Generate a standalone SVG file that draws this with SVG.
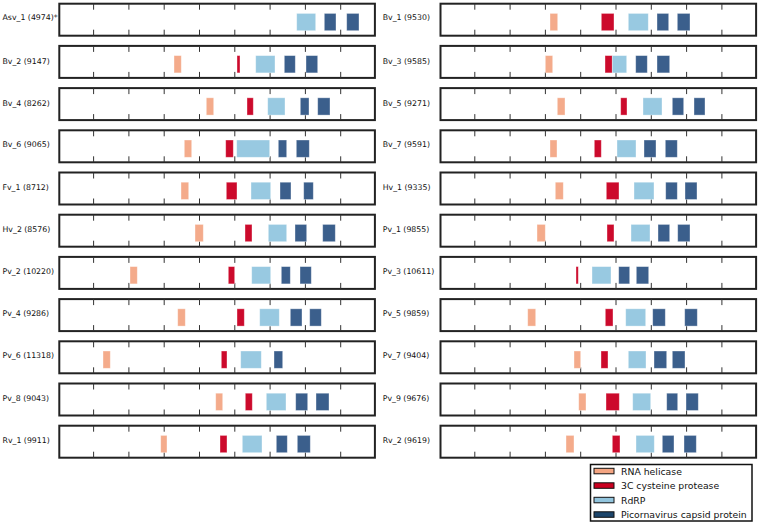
<svg xmlns="http://www.w3.org/2000/svg" xmlns:xlink="http://www.w3.org/1999/xlink" width="760" height="525" viewBox="0 0 760 525">
<style>
.frame{fill:#fff;stroke:#222;stroke-width:2}
.tk{stroke:#333;stroke-width:1;fill:none}
.lbl{font-family:"DejaVu Sans",sans-serif;font-size:7.8px;fill:#111}
.s{fill:#f4ab8b}
.r{fill:#cc0a2c}
.l{fill:#98c9e1}
.d{fill:#3b5f8c}
.b rect{stroke:#fff;stroke-opacity:0.45;stroke-width:0.8}
.leg{font-family:"DejaVu Sans",sans-serif;font-size:9.3px;fill:#111}
</style>
<defs>
<g id="panel">
<rect class="frame" x="1" y="1" width="315.6" height="32"/>
<path class="tk" d="M35.3,1v6M70.6,1v6M105.9,1v6M141.2,1v6M176.5,1v6M211.8,1v6M247.1,1v6M282.4,1v6M35.3,33v-6M70.6,33v-6M105.9,33v-6M141.2,33v-6M176.5,33v-6M211.8,33v-6M247.1,33v-6M282.4,33v-6"/>
</g>
</defs>
<g id="connectors"/>
<!-- left column -->
<g id="Asv_1" transform="translate(58.3,2.7)"><use xlink:href="#panel"/><text class="lbl" x="-55.8" y="17">Asv_1 (4974)*</text><g class="b" transform="translate(0,10.7)"><rect class="l" x="238.4" width="19" height="17.3"/><rect class="d" x="266" width="11.7" height="17.3"/><rect class="d" x="288.4" width="12.3" height="17.3"/></g></g>
<g id="Bv_2" transform="translate(58.3,44.9)"><use xlink:href="#panel"/><text class="lbl" x="-55.8" y="19.5">Bv_2 (9147)</text><g class="b" transform="translate(0,10.7)"><rect class="s" x="115.7" width="7.3" height="17.3"/><rect class="r" x="178.7" width="3" height="17.3"/><rect class="l" x="197.4" width="19.3" height="17.3"/><rect class="d" x="226" width="11" height="17.3"/><rect class="d" x="247.7" width="11.7" height="17.3"/></g></g>
<g id="Bv_4" transform="translate(58.3,87.1)"><use xlink:href="#panel"/><text class="lbl" x="-55.8" y="19">Bv_4 (8262)</text><g class="b" transform="translate(0,10.7)"><rect class="s" x="148" width="7.4" height="17.3"/><rect class="r" x="188.7" width="6.3" height="17.3"/><rect class="l" x="209.4" width="17.3" height="17.3"/><rect class="d" x="242" width="8.7" height="17.3"/><rect class="d" x="259.4" width="12.3" height="17.3"/></g></g>
<g id="Bv_6" transform="translate(58.3,129.3)"><use xlink:href="#panel"/><text class="lbl" x="-55.8" y="18">Bv_6 (9065)</text><g class="b" transform="translate(0,10.7)"><rect class="s" x="126" width="7.4" height="17.3"/><rect class="r" x="167.4" width="7.6" height="17.3"/><rect class="l" x="178.4" width="33" height="17.3"/><rect class="d" x="220" width="8.4" height="17.3"/><rect class="d" x="238" width="13" height="17.3"/></g></g>
<g id="Fv_1" transform="translate(58.3,171.5)"><use xlink:href="#panel"/><text class="lbl" x="-55.8" y="18">Fv_1 (8712)</text><g class="b" transform="translate(0,10.7)"><rect class="s" x="122.7" width="7.7" height="17.3"/><rect class="r" x="168" width="10.7" height="17.3"/><rect class="l" x="192.7" width="19.7" height="17.3"/><rect class="d" x="221.7" width="11" height="17.3"/><rect class="d" x="245.4" width="9.6" height="17.3"/></g></g>
<g id="Hv_2" transform="translate(58.3,213.7)"><use xlink:href="#panel"/><text class="lbl" x="-55.8" y="18">Hv_2 (8576)</text><g class="b" transform="translate(0,10.7)"><rect class="s" x="136.7" width="8.3" height="17.3"/><rect class="r" x="186.7" width="7" height="17.3"/><rect class="l" x="210" width="18.4" height="17.3"/><rect class="d" x="236.7" width="11.7" height="17.3"/><rect class="d" x="264.4" width="12.6" height="17.3"/></g></g>
<g id="Pv_2" transform="translate(58.3,255.9)"><use xlink:href="#panel"/><text class="lbl" x="-55.8" y="18">Pv_2 (10220)</text><g class="b" transform="translate(0,10.7)"><rect class="s" x="71.7" width="7.3" height="17.3"/><rect class="r" x="170" width="6.4" height="17.3"/><rect class="l" x="193.4" width="19" height="17.3"/><rect class="d" x="223" width="9" height="17.3"/><rect class="d" x="241.7" width="11.3" height="17.3"/></g></g>
<g id="Pv_4" transform="translate(58.3,298.1)"><use xlink:href="#panel"/><text class="lbl" x="-55.8" y="18">Pv_4 (9286)</text><g class="b" transform="translate(0,10.7)"><rect class="s" x="119.4" width="7.6" height="17.3"/><rect class="r" x="178.7" width="7.3" height="17.3"/><rect class="l" x="201.4" width="19.6" height="17.3"/><rect class="d" x="232" width="11.7" height="17.3"/><rect class="d" x="251.4" width="11.6" height="17.3"/></g></g>
<g id="Pv_6" transform="translate(58.3,340.3)"><use xlink:href="#panel"/><text class="lbl" x="-55.8" y="18">Pv_6 (11318)</text><g class="b" transform="translate(0,10.7)"><rect class="s" x="44.7" width="7.3" height="17.3"/><rect class="r" x="163" width="5.7" height="17.3"/><rect class="l" x="182.4" width="20.6" height="17.3"/><rect class="d" x="215.7" width="8.7" height="17.3"/></g></g>
<g id="Pv_8" transform="translate(58.3,382.5)"><use xlink:href="#panel"/><text class="lbl" x="-55.8" y="18">Pv_8 (9043)</text><g class="b" transform="translate(0,10.7)"><rect class="s" x="157.4" width="7" height="17.3"/><rect class="r" x="187" width="7" height="17.3"/><rect class="l" x="208" width="19.7" height="17.3"/><rect class="d" x="237.4" width="12" height="17.3"/><rect class="d" x="257.7" width="13" height="17.3"/></g></g>
<g id="Rv_1" transform="translate(58.3,424.7)"><use xlink:href="#panel"/><text class="lbl" x="-55.8" y="18">Rv_1 (9911)</text><g class="b" transform="translate(0,10.7)"><rect class="s" x="102.4" width="6.3" height="17.3"/><rect class="r" x="161.7" width="7" height="17.3"/><rect class="l" x="184" width="19.7" height="17.3"/><rect class="d" x="218" width="11" height="17.3"/><rect class="d" x="239" width="13" height="17.3"/></g></g>
<!-- right column -->
<g id="Bv_1" transform="translate(439.5,2.7)"><use xlink:href="#panel"/><text class="lbl" x="-56.8" y="17">Bv_1 (9530)</text><g class="b" transform="translate(0,10.7)"><rect class="s" x="110.5" width="7.7" height="17.3"/><rect class="r" x="161.8" width="12.7" height="17.3"/><rect class="l" x="188.8" width="20" height="17.3"/><rect class="d" x="217.5" width="11.7" height="17.3"/><rect class="d" x="237.8" width="12.7" height="17.3"/></g></g>
<g id="Bv_3" transform="translate(439.5,44.9)"><use xlink:href="#panel"/><text class="lbl" x="-56.8" y="19.5">Bv_3 (9585)</text><g class="b" transform="translate(0,10.7)"><rect class="s" x="105.8" width="7.4" height="17.3"/><rect class="r" x="165.5" width="7.3" height="17.3"/><rect class="l" x="172.8" width="14.4" height="17.3"/><rect class="d" x="196.2" width="11.6" height="17.3"/><rect class="d" x="217.5" width="12.7" height="17.3"/></g></g>
<g id="Bv_5" transform="translate(439.5,87.1)"><use xlink:href="#panel"/><text class="lbl" x="-56.8" y="19">Bv_5 (9271)</text><g class="b" transform="translate(0,10.7)"><rect class="s" x="117.8" width="7.7" height="17.3"/><rect class="r" x="181.2" width="6.3" height="17.3"/><rect class="l" x="203.5" width="19" height="17.3"/><rect class="d" x="232.8" width="11.4" height="17.3"/><rect class="d" x="254.5" width="11" height="17.3"/></g></g>
<g id="Bv_7" transform="translate(439.5,129.3)"><use xlink:href="#panel"/><text class="lbl" x="-56.8" y="18">Bv_7 (9591)</text><g class="b" transform="translate(0,10.7)"><rect class="s" x="110.5" width="7" height="17.3"/><rect class="r" x="154.8" width="7" height="17.3"/><rect class="l" x="177.5" width="19" height="17.3"/><rect class="d" x="204.5" width="12" height="17.3"/><rect class="d" x="225.8" width="12" height="17.3"/></g></g>
<g id="Hv_1" transform="translate(439.5,171.5)"><use xlink:href="#panel"/><text class="lbl" x="-56.8" y="18">Hv_1 (9335)</text><g class="b" transform="translate(0,10.7)"><rect class="s" x="115.8" width="8" height="17.3"/><rect class="r" x="166.8" width="12.7" height="17.3"/><rect class="l" x="194.5" width="20" height="17.3"/><rect class="d" x="226.2" width="11.6" height="17.3"/><rect class="d" x="245.5" width="12" height="17.3"/></g></g>
<g id="Pv_1" transform="translate(439.5,213.7)"><use xlink:href="#panel"/><text class="lbl" x="-56.8" y="18">Pv_1 (9855)</text><g class="b" transform="translate(0,10.7)"><rect class="s" x="97.5" width="8.3" height="17.3"/><rect class="r" x="167.5" width="7" height="17.3"/><rect class="l" x="191.5" width="19" height="17.3"/><rect class="d" x="218.5" width="11.7" height="17.3"/><rect class="d" x="238.2" width="12.3" height="17.3"/></g></g>
<g id="Pv_3" transform="translate(439.5,255.9)"><use xlink:href="#panel"/><text class="lbl" x="-56.8" y="18">Pv_3 (10611)</text><g class="b" transform="translate(0,10.7)"><rect class="r" x="136.5" width="2.3" height="17.3"/><rect class="l" x="152.5" width="19" height="17.3"/><rect class="d" x="179.2" width="11" height="17.3"/><rect class="d" x="196.8" width="12.4" height="17.3"/></g></g>
<g id="Pv_5" transform="translate(439.5,298.1)"><use xlink:href="#panel"/><text class="lbl" x="-56.8" y="18">Pv_5 (9859)</text><g class="b" transform="translate(0,10.7)"><rect class="s" x="88.2" width="8" height="17.3"/><rect class="r" x="165.8" width="7.7" height="17.3"/><rect class="l" x="186.2" width="20" height="17.3"/><rect class="d" x="213.2" width="12.6" height="17.3"/><rect class="d" x="245.2" width="12.6" height="17.3"/></g></g>
<g id="Pv_7" transform="translate(439.5,340.3)"><use xlink:href="#panel"/><text class="lbl" x="-56.8" y="18">Pv_7 (9404)</text><g class="b" transform="translate(0,10.7)"><rect class="s" x="134.5" width="6.7" height="17.3"/><rect class="r" x="161.5" width="7" height="17.3"/><rect class="l" x="188.8" width="17.7" height="17.3"/><rect class="d" x="214.5" width="12.7" height="17.3"/><rect class="d" x="232.8" width="12.7" height="17.3"/></g></g>
<g id="Pv_9" transform="translate(439.5,382.5)"><use xlink:href="#panel"/><text class="lbl" x="-56.8" y="18">Pv_9 (9676)</text><g class="b" transform="translate(0,10.7)"><rect class="s" x="139.2" width="7.3" height="17.3"/><rect class="r" x="166.5" width="13.3" height="17.3"/><rect class="l" x="193.2" width="18" height="17.3"/><rect class="d" x="227.2" width="11" height="17.3"/><rect class="d" x="246.5" width="12.3" height="17.3"/></g></g>
<g id="Rv_2" transform="translate(439.5,424.7)"><use xlink:href="#panel"/><text class="lbl" x="-56.8" y="18">Rv_2 (9619)</text><g class="b" transform="translate(0,10.7)"><rect class="s" x="126.5" width="8" height="17.3"/><rect class="r" x="172.8" width="7.7" height="17.3"/><rect class="l" x="196.5" width="18.3" height="17.3"/><rect class="d" x="222.8" width="11.7" height="17.3"/><rect class="d" x="244.5" width="12.3" height="17.3"/></g></g>
<!-- legend -->
<g id="legend">
<rect x="590.5" y="464.5" width="161.5" height="56.5" fill="#fff" stroke="#111" stroke-width="1.5"/>
<rect x="594" y="468.3" width="20" height="5.5" fill="#f4a582" stroke="#111" stroke-width="1"/>
<rect x="594" y="482.8" width="20" height="5.5" fill="#ca0020" stroke="#111" stroke-width="1"/>
<rect x="594" y="497.3" width="20" height="5.5" fill="#92c5de" stroke="#111" stroke-width="1"/>
<rect x="594" y="511.8" width="20" height="5.5" fill="#1c456b" stroke="#111" stroke-width="1"/>
<text class="leg" x="621" y="474.5">RNA helicase</text>
<text class="leg" x="621" y="489">3C cysteine protease</text>
<text class="leg" x="621" y="503.5">RdRP</text>
<text class="leg" x="621" y="518">Picornavirus capsid protein</text>
</g>
</svg>
